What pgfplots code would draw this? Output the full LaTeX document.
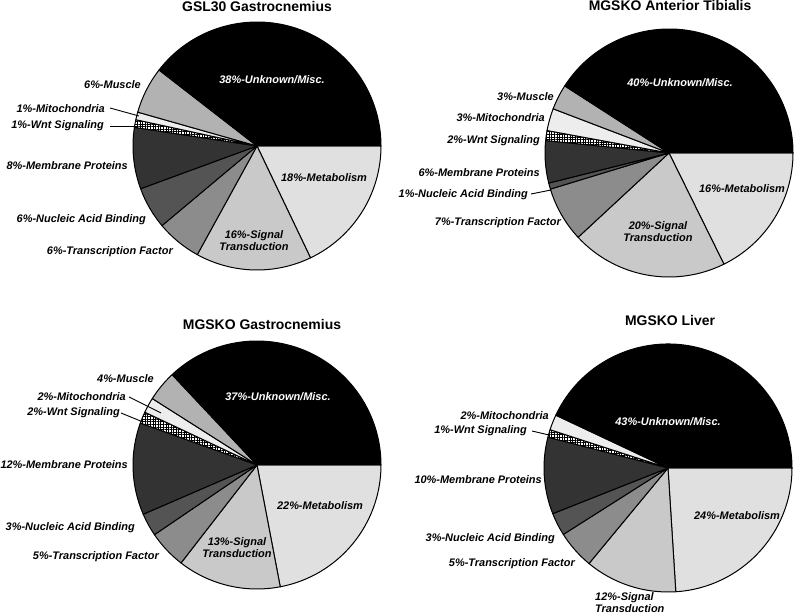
\documentclass[border=0pt]{standalone}
\usepackage{pgfplots}
\pgfplotsset{compat=1.18}
\usepackage{fontspec}
\setmainfont{Liberation Sans}
\usetikzlibrary{patterns,patterns.meta}

\definecolor{cMus}{gray}{0.70}
\definecolor{cMit}{gray}{0.93}
\definecolor{cMem}{gray}{0.20}
\definecolor{cNuc}{gray}{0.33}
\definecolor{cTF}{gray}{0.55}
\definecolor{cSig}{gray}{0.79}
\definecolor{cMet}{gray}{0.88}

\tikzset{
  sl/.style={draw=black, line width=1bp, line join=round},
  sUnk/.style={sl, fill=black},
  sMus/.style={sl, fill=cMus},
  sMit/.style={sl, fill=cMit},
  sWnt/.style={sl, preaction={fill=white},
    preaction={pattern={Lines[angle=0,distance=2.6pt,line width=0.5pt]}},
    pattern={Lines[angle=90,distance=2.6pt,line width=0.5pt]}},
  sMem/.style={sl, fill=cMem},
  sNuc/.style={sl, fill=cNuc},
  sTF/.style={sl, fill=cTF},
  sSig/.style={sl, fill=cSig},
  sMet/.style={sl, fill=cMet},
  lab/.style={font=\fontsize{11}{12}\selectfont\bfseries\itshape, inner sep=0pt},
  ttl/.style={font=\fontsize{14}{16}\selectfont\bfseries, inner sep=0pt, anchor=base},
  lead/.style={draw=black, line width=0.9bp},
}

\def\pieR{124bp}
% running sum of the slices, clockwise from east
\newcommand\startpie[1]{\gdef\cum{0}\gdef\tot{#1}}
\newcommand\slice[2]{%
  \pgfmathsetmacro\aS{-360*(\cum/\tot)}%
  \pgfmathsetmacro\cumnew{\cum+#1}%
  \pgfmathsetmacro\aE{-360*(\cumnew/\tot)}%
  \xdef\cum{\cumnew}%
  \edef\temp{\noexpand\filldraw[#2] (axis cs:0,0) -- (axis cs:{cos(\aS)},{sin(\aS)})
    arc[start angle=\aS, end angle=\aE, radius=\noexpand\pieR] -- cycle;}%
  \temp}

\pgfplotsset{pieaxis/.style={anchor=center, x=\pieR, y=\pieR,
  xmin=-1, xmax=1, ymin=-1, ymax=1, hide axis, clip=false}}

\begin{document}
\begin{tikzpicture}
\path[use as bounding box] (0,0) rectangle (794bp,616bp);

% GSL30 Gastrocnemius (slice sizes as drawn)
\begin{axis}[pieaxis, at={(257bp,470bp)}]
  \startpie{100}
  \slice{17.9}{sMet}
  \slice{15.1}{sSig}
  \slice{5.9}{sTF}
  \slice{5.5}{sNuc}
  \slice{8.0}{sMem}
  \slice{1.0}{sWnt}
  \slice{1.0}{sMit}
  \slice{6.1}{sMus}
  \slice{39.5}{sUnk}
\end{axis}
\node[ttl] at (257bp,604bp) {GSL30 Gastrocnemius};
\node[lab, white] at (272bp,536bp) {38\%-Unknown/Misc.};
\node[lab] at (324bp,438bp) {18\%-Metabolism};
\node[lab, align=center] at (254bp,375bp) {16\%-Signal\\Transduction};
\node[lab, anchor=east] at (141bp,531bp) {6\%-Muscle};
\node[lab, anchor=east] at (105bp,507bp) {1\%-Mitochondria};
\draw[lead] (110bp,508bp) -- (139bp,500bp);
\node[lab, anchor=east] at (104bp,490bp) {1\%-Wnt Signaling};
\draw[lead] (110bp,490bp) -- (138bp,490bp);
\node[lab, anchor=east] at (128bp,450bp) {8\%-Membrane Proteins};
\node[lab, anchor=east] at (146bp,396bp) {6\%-Nucleic Acid Binding};
\node[lab, anchor=east] at (173bp,364bp) {6\%-Transcription Factor};

% MGSKO Anterior Tibialis
\begin{axis}[pieaxis, at={(669bp,463bp)}]
  \startpie{100}
  \slice{17.7}{sMet}
  \slice{20.4}{sSig}
  \slice{7.2}{sTF}
  \slice{0.8}{sNuc}
  \slice{5.5}{sMem}
  \slice{1.3}{sWnt}
  \slice{2.9}{sMit}
  \slice{3.3}{sMus}
  \slice{40.9}{sUnk}
\end{axis}
\node[ttl] at (670bp,605bp) {MGSKO Anterior Tibialis};
\node[lab, white] at (680bp,533bp) {40\%-Unknown/Misc.};
\node[lab] at (742bp,427bp) {16\%-Metabolism};
\node[lab, align=center] at (658bp,384bp) {20\%-Signal\\Transduction};
\node[lab, anchor=east] at (554bp,519bp) {3\%-Muscle};
\node[lab, anchor=east] at (545bp,498bp) {3\%-Mitochondria};
\node[lab, anchor=east] at (540bp,475bp) {2\%-Wnt Signaling};
\node[lab, anchor=east] at (540bp,443bp) {6\%-Membrane Proteins};
\node[lab, anchor=east] at (528bp,421bp) {1\%-Nucleic Acid Binding};
\draw[lead] (531bp,422bp) -- (551bp,426bp);
\node[lab, anchor=east] at (561bp,393bp) {7\%-Transcription Factor};

% MGSKO Gastrocnemius
\begin{axis}[pieaxis, at={(257bp,151bp)}]
  \startpie{100}
  \slice{22}{sMet}
  \slice{13.5}{sSig}
  \slice{5}{sTF}
  \slice{3}{sNuc}
  \slice{12}{sMem}
  \slice{1.5}{sWnt}
  \slice{2}{sMit}
  \slice{4}{sMus}
  \slice{37}{sUnk}
\end{axis}
\node[ttl] at (262bp,286bp) {MGSKO Gastrocnemius};
\node[lab, white] at (278bp,219bp) {37\%-Unknown/Misc.};
\node[lab] at (320bp,110bp) {22\%-Metabolism};
\node[lab, align=center] at (237bp,68bp) {13\%-Signal\\Transduction};
\node[lab, anchor=east] at (154bp,237bp) {4\%-Muscle};
\node[lab, anchor=east] at (126bp,219bp) {2\%-Mitochondria};
\draw[lead] (129bp,219bp) -- (161bp,203bp);
\node[lab, anchor=east] at (120bp,203bp) {2\%-Wnt Signaling};
\draw[lead] (121bp,203bp) -- (143bp,194bp);
\node[lab, anchor=east] at (128bp,151bp) {12\%-Membrane Proteins};
\node[lab, anchor=east] at (135bp,88bp) {3\%-Nucleic Acid Binding};
\node[lab, anchor=east] at (159bp,59bp) {5\%-Transcription Factor};

% MGSKO Liver
\begin{axis}[pieaxis, at={(668bp,148bp)}]
  \startpie{100}
  \slice{24}{sMet}
  \slice{12}{sSig}
  \slice{5}{sTF}
  \slice{3}{sNuc}
  \slice{10}{sMem}
  \slice{1}{sWnt}
  \slice{2}{sMit}
  \slice{43}{sUnk}
\end{axis}
\node[ttl] at (670bp,290bp) {MGSKO Liver};
\node[lab, white] at (668bp,194bp) {43\%-Unknown/Misc.};
\node[lab] at (737bp,100bp) {24\%-Metabolism};
\node[lab, align=left, anchor=west] at (595bp,13bp) {12\%-Signal\\Transduction};
\node[lab, anchor=east] at (549bp,200bp) {2\%-Mitochondria};
\node[lab, anchor=east] at (527bp,185bp) {1\%-Wnt Signaling};
\draw[lead] (532bp,185bp) -- (549bp,181bp);
\node[lab, anchor=east] at (542bp,136bp) {10\%-Membrane Proteins};
\node[lab, anchor=east] at (555bp,77bp) {3\%-Nucleic Acid Binding};
\node[lab, anchor=east] at (575bp,52bp) {5\%-Transcription Factor};
\end{tikzpicture}
\end{document}
